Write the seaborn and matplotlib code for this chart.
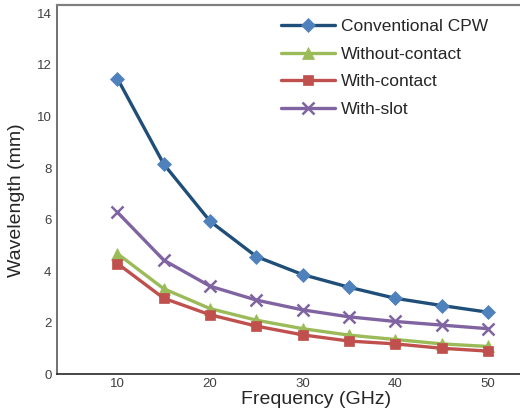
import numpy as np
import pandas as pd
import matplotlib
matplotlib.use('Agg')
import matplotlib.pyplot as plt
import seaborn as sns

sns.set_theme(style='white')
plt.rcParams['font.family'] = ['Liberation Sans', 'DejaVu Sans']

# data
freq = [10, 15, 20, 25, 30, 35, 40, 45, 50]
conventional_cpw = [11.47, 8.15, 5.93, 4.56, 3.86, 3.37, 2.94, 2.66, 2.40]
without_contact = [4.67, 3.31, 2.54, 2.09, 1.76, 1.51, 1.34, 1.17, 1.07]
with_contact = [4.29, 2.94, 2.30, 1.86, 1.52, 1.28, 1.17, 1.00, 0.89]
with_slot = [6.28, 4.42, 3.41, 2.87, 2.49, 2.22, 2.04, 1.90, 1.76]

x_ticks = [10, 20, 30, 40, 50]
y_ticks = [0, 2, 4, 6, 8, 10, 12, 14]

fig = plt.figure(figsize=(5.2, 4.13), dpi=100)
ax = fig.add_axes([0.1096, 0.0944, 0.8904, 0.8935])

series = [
    ('Conventional CPW', conventional_cpw, '#1F4E79', '#4F81BD', 'D', 7),
    ('Without-contact', without_contact, '#9BBB59', '#9BBB59', '^', 8),
    ('With-contact', with_contact, '#C0504D', '#C0504D', 's', 7.5),
    ('With-slot', with_slot, '#8064A2', '#8064A2', 'x', 8),
]

for name, vals, lc, mc, mk, ms in series:
    sns.lineplot(x=freq, y=vals, ax=ax, color=lc, linewidth=2.4,
                 marker=mk, markersize=ms, markerfacecolor=mc,
                 markeredgecolor=mc, markeredgewidth=1.8 if mk == 'x' else 0.5,
                 label=name)

ax.set_xlim(3.47, 53.46)
ax.set_ylim(0, 14.33)
ax.set_xticks(x_ticks)
ax.set_yticks(y_ticks)
ax.tick_params(axis='x', length=0, labelsize=9.5, labelcolor='#404040', pad=3)
ax.tick_params(axis='y', length=0, labelsize=9.5, labelcolor='#404040', pad=4)
ax.set_xlabel('Frequency (GHz)', fontsize=14, color='#262626')
ax.set_ylabel('Wavelength (mm)', fontsize=14, color='#262626')
ax.xaxis.set_label_coords(0.559, -0.045)
ax.yaxis.set_label_coords(-0.069, 0.472)

ax.spines['right'].set_visible(False)
ax.spines['left'].set_color('#595959')
ax.spines['left'].set_linewidth(1.2)
ax.spines['bottom'].set_color('#262626')
ax.spines['bottom'].set_linewidth(1.2)
ax.spines['top'].set_color('#808080')
ax.spines['top'].set_linewidth(1.6)

leg = ax.legend(loc='upper left', bbox_to_anchor=(0.451, 1.005), frameon=False,
                fontsize=12.5, handlelength=3.1, labelspacing=0.72,
                handletextpad=0.35)
for t in leg.get_texts():
    t.set_color('#262626')

fig.savefig('out.png', dpi=100)
